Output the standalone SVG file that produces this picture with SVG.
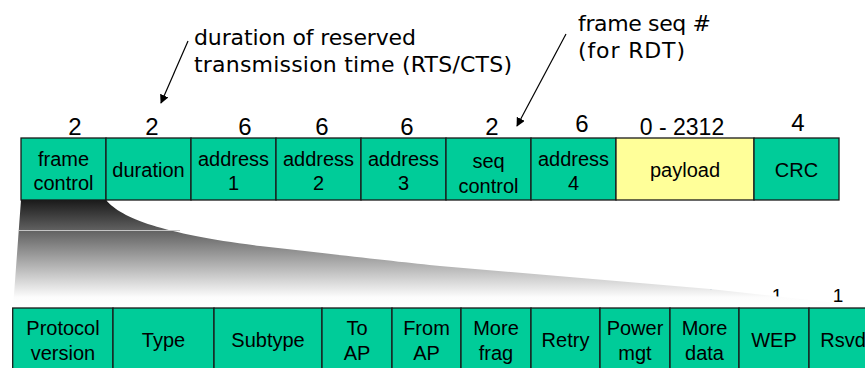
<svg xmlns="http://www.w3.org/2000/svg" width="865" height="368" viewBox="0 0 865 368">
<style>
.box{fill:#00CC99;stroke:#1a1a1a;stroke-width:1.3}
.pay{fill:#FFFF99;stroke:#1a1a1a;stroke-width:1.3}
.t{font-family:"Liberation Sans",Arial,sans-serif;font-size:20px;fill:#000;text-anchor:middle}
.n{font-family:"Liberation Sans",Arial,sans-serif;font-size:24px;fill:#000;text-anchor:middle}
.nb{font-family:"Liberation Sans",Arial,sans-serif;font-size:19px;fill:#000;text-anchor:middle}
.a{font-family:"DejaVu Sans",sans-serif;font-size:22px;fill:#000}
.arr{stroke:#000;stroke-width:1.2;fill:none;marker-end:url(#ah)}
</style>
<defs>
<marker id="ah" viewBox="0 0 10 10" refX="9" refY="5" markerWidth="9" markerHeight="9" markerUnits="userSpaceOnUse" orient="auto">
<path d="M0,0 L10,5 L0,10 Z" fill="#000"/>
</marker>
<linearGradient id="g" gradientUnits="userSpaceOnUse" x1="0" y1="200" x2="0" y2="308">
<stop offset="0" stop-color="#1a1a1a"/>
<stop offset="0.9" stop-color="#fcfcfc"/>
<stop offset="1" stop-color="#ffffff"/>
</linearGradient>
</defs>

<!-- annotations -->
<g id="note-duration">
<text class="a" x="194" y="45" textLength="222" lengthAdjust="spacing">duration of reserved</text>
<text class="a" x="194" y="72" textLength="318" lengthAdjust="spacing">transmission time (RTS/CTS)</text>
</g>
<g id="note-seq">
<text class="a" x="578" y="31" textLength="133" lengthAdjust="spacing">frame seq #</text>
<text class="a" x="578" y="58" textLength="107" lengthAdjust="spacing">(for RDT)</text>
</g>

<g id="connectors">
<line class="arr" x1="188" y1="41" x2="161" y2="103"/>
<line class="arr" x1="566" y1="34" x2="517" y2="126"/>
</g>

<!-- field sizes -->
<g id="sizes">
<text class="n" x="75" y="135">2</text>
<text class="n" x="152" y="135">2</text>
<text class="n" x="245" y="135">6</text>
<text class="n" x="322" y="135">6</text>
<text class="n" x="407" y="135">6</text>
<text class="n" x="492" y="135">2</text>
<text class="n" x="582" y="131.5">6</text>
<text class="n" x="682" y="135" style="font-size:23px">0 - 2312</text>
<text class="n" x="798" y="131">4</text>
</g>

<!-- top frame fields -->
<g id="f-frame-control"><rect class="box" x="21" y="138" width="85" height="62"/><text class="t" x="63.5" y="166">frame</text><text class="t" x="63.5" y="190">control</text></g>
<g id="f-duration"><rect class="box" x="106" y="138" width="85" height="62"/><text class="t" x="148.5" y="177">duration</text></g>
<g id="f-address1"><rect class="box" x="191" y="138" width="85" height="62"/><text class="t" x="233.5" y="166">address</text><text class="t" x="233.5" y="190">1</text></g>
<g id="f-address2"><rect class="box" x="276" y="138" width="85" height="62"/><text class="t" x="318.5" y="166">address</text><text class="t" x="318.5" y="190">2</text></g>
<g id="f-address3"><rect class="box" x="361" y="138" width="85" height="62"/><text class="t" x="403.5" y="166">address</text><text class="t" x="403.5" y="190">3</text></g>
<g id="f-seq-control"><rect class="box" x="446" y="138" width="85" height="62"/><text class="t" x="488.5" y="168">seq</text><text class="t" x="488.5" y="193">control</text></g>
<g id="f-address4"><rect class="box" x="531" y="138" width="85" height="62"/><text class="t" x="573.5" y="166">address</text><text class="t" x="573.5" y="190">4</text></g>
<g id="f-payload"><rect class="pay" x="616" y="138" width="138" height="62"/><text class="t" x="685" y="177">payload</text></g>
<g id="f-crc"><rect class="box" x="754" y="138" width="85" height="62"/><text class="t" x="796.5" y="177">CRC</text></g>

<!-- bit sizes (mostly hidden under the fan) -->
<g id="bit-sizes">
<text class="nb" x="710" y="301.5">1</text>
<text class="nb" x="777" y="301.5">1</text>
<text class="nb" x="838" y="301.5">1</text>
</g>

<!-- expansion fan -->
<g id="fan">
<path d="M21,200 L106,200 C122,219 165,234 260,246 C330,254 400,262 440,266 L710,289 L865,306 L865,308 L13,308 Z" fill="url(#g)"/>
<line x1="18.8" y1="230.5" x2="180" y2="230.5" stroke="#c4c4c4" stroke-width="1"/>
</g>

<!-- frame control subfields -->
<g id="b-protocol"><rect class="box" x="12.7" y="308" width="100.3" height="70"/><text class="t" x="63" y="335">Protocol</text><text class="t" x="63" y="360">version</text></g>
<g id="b-type"><rect class="box" x="113" y="308" width="101" height="70"/><text class="t" x="163.5" y="347">Type</text></g>
<g id="b-subtype"><rect class="box" x="214" y="308" width="108" height="70"/><text class="t" x="268" y="347">Subtype</text></g>
<g id="b-toap"><rect class="box" x="322" y="308" width="70" height="70"/><text class="t" x="357" y="335">To</text><text class="t" x="357" y="360">AP</text></g>
<g id="b-fromap"><rect class="box" x="392" y="308" width="69" height="70"/><text class="t" x="426.5" y="335">From</text><text class="t" x="426.5" y="360">AP</text></g>
<g id="b-morefrag"><rect class="box" x="461" y="308" width="70" height="70"/><text class="t" x="496" y="335">More</text><text class="t" x="496" y="360">frag</text></g>
<g id="b-retry"><rect class="box" x="531" y="308" width="69" height="70"/><text class="t" x="565.5" y="347">Retry</text></g>
<g id="b-power"><rect class="box" x="600" y="308" width="70" height="70"/><text class="t" x="635" y="335">Power</text><text class="t" x="635" y="360">mgt</text></g>
<g id="b-moredata"><rect class="box" x="670" y="308" width="69" height="70"/><text class="t" x="704.5" y="335">More</text><text class="t" x="704.5" y="360">data</text></g>
<g id="b-wep"><rect class="box" x="739" y="308" width="70" height="70"/><text class="t" x="774" y="347">WEP</text></g>
<g id="b-rsvd"><rect class="box" x="809" y="308" width="70" height="70"/><text class="t" x="843" y="347">Rsvd</text></g>
</svg>
